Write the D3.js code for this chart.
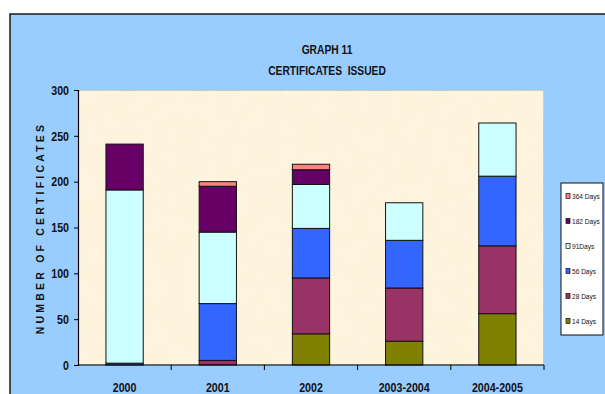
<!DOCTYPE html>
<html>
<head>
<meta charset="utf-8">
<script src="https://cdn.jsdelivr.net/npm/d3@7"></script>
<style>
  html, body { margin: 0; padding: 0; background: #ffffff; }
  svg { display: block; }
  text { font-family: "Liberation Sans", Arial, sans-serif; }
</style>
</head>
<body>
<svg id="chart" width="605" height="394"></svg>
<script>
// Certificates issued per period, stacked by term
const categories = ["2000", "2001", "2002", "2003-2004", "2004-2005"];
const seriesNames = ["14 Days", "28 Days", "56 Days", "91Days", "182 Days", "364 Days"];
const days14  = [0, 0, 34, 26, 56];
const days28  = [0, 5, 61, 58, 74];
const days56  = [2, 62, 54, 52, 76];
const days91  = [189, 78, 48, 41, 58];
const days182 = [50, 50, 16, 0, 0];
const days364 = [0, 5, 6, 0, 0];
const yTicks = [0, 50, 100, 150, 200, 250, 300];
const seriesColors = ["#808000", "#993366", "#3366FF", "#CCFFFF", "#660066", "#FF8080"];

const seriesValues = [days14, days28, days56, days91, days182, days364];
const rows = categories.map((c, i) => {
  const r = { category: c };
  seriesNames.forEach((s, k) => { r[s] = seriesValues[k][i]; });
  return r;
});

const svg = d3.select("#chart");

// chart frame
svg.append("rect")
  .attr("x", 10).attr("y", 14).attr("width", 620).attr("height", 400)
  .attr("fill", "#99CCFF").attr("stroke", "#1a1a1a").attr("stroke-width", 1.5);

const plot = { left: 78, right: 544, top: 90, bottom: 365 };

// parchment-like plot background with a subtle texture
const defs = svg.append("defs");
const filt = defs.append("filter").attr("id", "paper").attr("x", 0).attr("y", 0).attr("width", 1).attr("height", 1);
filt.append("feTurbulence").attr("type", "fractalNoise").attr("baseFrequency", 0.06).attr("numOctaves", 2).attr("seed", 3).attr("result", "noise");
filt.append("feColorMatrix").attr("in", "noise").attr("type", "matrix")
  .attr("values", "0 0 0 0 1  0 0 0 0 0.96  0 0 0 0 0.86  0 0 0 0.35 0").attr("result", "tint");
filt.append("feComposite").attr("in", "tint").attr("in2", "SourceGraphic").attr("operator", "in").attr("result", "t2");
filt.append("feMerge").selectAll("feMergeNode").data(["SourceGraphic", "t2"]).join("feMergeNode").attr("in", d => d);

svg.append("rect")
  .attr("x", plot.left).attr("y", plot.top)
  .attr("width", plot.right - plot.left).attr("height", plot.bottom - plot.top)
  .attr("fill", "#FEF3DA").attr("stroke", "#8c8c8c").attr("stroke-width", 1)
  .attr("filter", "url(#paper)");

const x = d3.scaleBand().domain(categories).range([plot.left, plot.right]).paddingInner(0.6).paddingOuter(0.3);
const xOuter = d3.scaleBand().domain(categories).range([plot.left, plot.right]);
const y = d3.scaleLinear().domain([0, 300]).range([plot.bottom, plot.top]);

const stack = d3.stack().keys(seriesNames)(rows);

const g = svg.append("g");
stack.forEach((layer, k) => {
  g.append("g")
    .attr("fill", seriesColors[k])
    .selectAll("rect")
    .data(layer.filter(d => d[1] - d[0] > 0))
    .join("rect")
    .attr("x", d => x(d.data.category))
    .attr("width", x.bandwidth())
    .attr("y", d => y(d[1]))
    .attr("height", d => y(d[0]) - y(d[1]))
    .attr("stroke", "#111")
    .attr("stroke-width", 1);
});

// y axis
const yAxis = svg.append("g")
  .attr("transform", `translate(${plot.left},0)`)
  .call(d3.axisLeft(y).tickValues(yTicks).tickSize(4).tickPadding(5));
yAxis.select(".domain").attr("stroke", "#000").attr("stroke-width", 1.2);
yAxis.selectAll(".tick line").attr("stroke", "#000");
yAxis.selectAll("text")
  .attr("class", "narrow")
  .attr("font-family", "Liberation Sans, Arial, sans-serif")
  .attr("font-size", 13).attr("font-weight", "bold").attr("fill", "#111");

// x axis with ticks between categories
const xAxis = svg.append("g").attr("transform", `translate(0,${plot.bottom})`);
xAxis.append("line")
  .attr("x1", plot.left).attr("x2", plot.right)
  .attr("stroke", "#000").attr("stroke-width", 1.2);
xAxis.selectAll("line.tick")
  .data(categories)
  .join("line")
  .attr("class", "tick")
  .attr("x1", d => xOuter(d) + xOuter.bandwidth()).attr("x2", d => xOuter(d) + xOuter.bandwidth())
  .attr("y1", 0).attr("y2", 5)
  .attr("stroke", "#000");
xAxis.selectAll("text")
  .data(categories)
  .join("text")
  .attr("class", "narrow")
  .attr("x", d => xOuter(d) + xOuter.bandwidth() / 2)
  .attr("y", 27)
  .attr("text-anchor", "middle")
  .attr("font-size", 13).attr("font-weight", "bold").attr("fill", "#111")
  .text(d => d);

// y axis title
svg.append("text")
  .attr("transform", "translate(44,228) rotate(-90)")
  .attr("text-anchor", "middle")
  .attr("font-size", 10.5).attr("font-weight", "bold")
  .attr("letter-spacing", 3.2).attr("fill", "#111")
  .text("NUMBER OF CERTIFICATES");

// titles
svg.append("text").attr("class", "narrow")
  .attr("x", 327).attr("y", 54).attr("text-anchor", "middle")
  .attr("font-size", 12.5).attr("font-weight", "bold").attr("fill", "#111")
  .text("GRAPH 11");
svg.append("text").attr("class", "narrow")
  .attr("x", 327).attr("y", 75).attr("text-anchor", "middle")
  .attr("font-size", 12.5).attr("font-weight", "bold").attr("fill", "#111")
  .attr("xml:space", "preserve")
  .text("CERTIFICATES  ISSUED");

// legend (top entry is the last series)
const legend = svg.append("g");
legend.append("rect")
  .attr("x", 561).attr("y", 183).attr("width", 42).attr("height", 152)
  .attr("fill", "#ffffff").attr("stroke", "#111").attr("stroke-width", 1);
const legendItems = seriesNames.map((s, k) => ({ name: s, color: seriesColors[k] })).reverse();
const ly = d3.scalePoint().domain(legendItems.map(d => d.name)).range([196, 321]);
const li = legend.selectAll("g.item").data(legendItems).join("g").attr("class", "item")
  .attr("transform", d => `translate(0,${ly(d.name)})`);
li.append("rect")
  .attr("x", 566).attr("y", -2.5).attr("width", 4).attr("height", 5)
  .attr("fill", d => d.color).attr("stroke", "#111").attr("stroke-width", 0.7);
li.append("text").attr("class", "narrow")
  .attr("x", 572).attr("y", 2.8)
  .attr("font-size", 8).attr("fill", "#111")
  .text(d => d.name);

// condensed lettering: squeeze each narrow label to ~82% of its natural width
svg.selectAll("text.narrow").each(function () {
  const w = this.getComputedTextLength();
  d3.select(this).attr("textLength", (w * 0.82).toFixed(1)).attr("lengthAdjust", "spacingAndGlyphs");
});
</script>
</body>
</html>
